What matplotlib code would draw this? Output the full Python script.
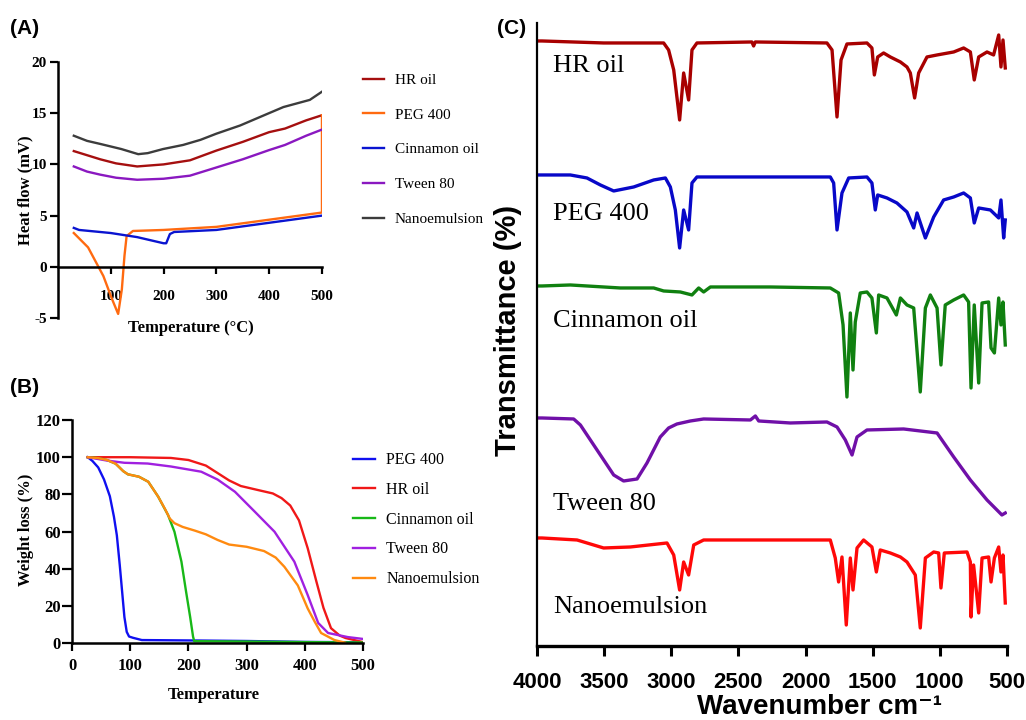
import matplotlib.pyplot as plt

plt.rcParams['font.family'] = ['Liberation Serif', 'DejaVu Serif']
plt.rcParams['axes.unicode_minus'] = False

# ---- (A) DSC data ----
dsc_labels = ['HR oil', 'PEG 400', 'Cinnamon oil', 'Tween 80', 'Nanoemulsion']
dsc_colors = ['#a50f0f', '#ff6a10', '#0a14d0', '#8a18c0', '#3c3c3c']
dsc_hr_t = [30, 55, 80, 110, 150, 200, 250, 300, 350, 400, 430, 470, 500]
dsc_hr_v = [11.3, 10.9, 10.5, 10.1, 9.8, 10.0, 10.4, 11.35, 12.2, 13.15, 13.5, 14.3, 14.8]
dsc_peg_t = [30, 57, 86, 102, 114, 121, 126, 130, 142, 200, 300, 400, 500, 500]
dsc_peg_v = [3.3, 1.9, -0.9, -3.1, -4.6, -2.2, 1.1, 3.0, 3.5, 3.6, 3.9, 4.6, 5.3, 14.8]
dsc_cin_t = [30, 40, 100, 150, 200, 205, 212, 220, 300, 400, 500]
dsc_cin_v = [3.8, 3.6, 3.3, 2.9, 2.3, 2.3, 3.2, 3.4, 3.6, 4.3, 5.0]
dsc_tw_t = [30, 55, 80, 110, 150, 200, 250, 300, 350, 400, 430, 470, 500]
dsc_tw_v = [9.8, 9.3, 9.0, 8.7, 8.5, 8.6, 8.9, 9.7, 10.5, 11.4, 11.9, 12.8, 13.4]
dsc_ne_t = [30, 55, 80, 120, 152, 170, 199, 237, 270, 300, 345, 395, 427, 477, 500]
dsc_ne_v = [12.8, 12.3, 12.0, 11.5, 11.0, 11.1, 11.5, 11.9, 12.4, 13.0, 13.8, 14.9, 15.6, 16.3, 17.1]

# ---- (B) TGA data ----
tga_labels = ['PEG 400', 'HR oil', 'Cinnamon oil', 'Tween 80', 'Nanoemulsion']
tga_colors = ['#1010f0', '#f01818', '#18b818', '#a020e0', '#ff8a10']
tga_peg_t = [27, 35, 45, 55, 65, 72, 77, 82, 86, 90, 94, 98, 105, 120, 200, 300, 400, 500]
tga_peg_v = [100, 98, 94.5, 88, 79, 68, 58, 42, 28, 14, 6, 3.5, 2.8, 1.6, 1.4, 1.1, 0.6, 0.4]
tga_hr_t = [27, 100, 170, 200, 230, 250, 270, 290, 320, 345, 360, 375, 390, 405, 420, 432, 445, 460, 470, 500]
tga_hr_v = [100, 100, 99.6, 98.5, 95.5, 91.5, 87.5, 84.5, 82.3, 80.5, 78, 74, 66, 51, 33, 19, 8, 4, 2.7, 0.5]
tga_cin_t = [27, 45, 60, 75, 88, 96, 115, 131, 148, 165, 176, 188, 196, 203, 208, 210, 300, 400, 500]
tga_cin_v = [100, 99.5, 98.5, 96.5, 92.5, 90.8, 89.5, 86.8, 78.8, 68.9, 59.9, 43.8, 27.6, 14, 3.4, 1, 0.8, 0.5, 0.3]
tga_tw_t = [27, 60, 90, 130, 170, 222, 250, 280, 314, 348, 382, 405, 423, 440, 474, 500]
tga_tw_v = [100, 98.2, 97, 96.6, 95, 92.2, 88, 81.4, 70.7, 59.9, 43.8, 25.8, 10.8, 5.4, 3.2, 2.2]
tga_ne_t = [27, 45, 60, 75, 88, 96, 115, 131, 148, 160, 168, 176, 190, 211, 230, 250, 270, 300,
            330, 350, 365, 388, 405, 417, 428, 451, 469]
tga_ne_v = [100, 99.5, 98.5, 96.5, 92.5, 90.8, 89.5, 86.8, 78.8, 72, 67, 64.5, 62.5, 60.5, 58.5, 55.5, 53, 51.8,
            49.5, 46, 41, 31, 18.6, 11.5, 5.4, 1.6, 0.2]

# ---- (C) FTIR data (stacked, arbitrary units) ----
ftir_labels = ['HR oil', 'PEG 400', 'Cinnamon oil', 'Tween 80', 'Nanoemulsion']
ftir_colors = ['#a80000', '#0808c8', '#108010', '#7010a8', '#ff0808']
hr_wn = [3990, 3963, 3504, 3057, 3020, 2982, 2938, 2908, 2871, 2846, 2809, 2400, 2387, 2375, 1841, 1803,
         1766, 1736, 1692, 1543, 1506, 1488, 1463, 1419, 1369, 1294, 1245, 1220, 1188, 1158, 1096, 1021,
         897, 823, 773, 744, 711, 649, 600, 562, 545, 530, 513]
hr_t = [605, 605, 603, 603, 596, 576, 526, 573, 546, 596, 603, 604, 600, 604, 603, 596,
        529, 586, 602, 603, 598, 571, 589, 593, 589, 584, 579, 573, 548, 573, 589, 591,
        594, 598, 594, 566, 589, 594, 591, 611, 579, 606, 578]
peg_wn = [3990, 3963, 3752, 3628, 3528, 3429, 3280, 3131, 3044, 3007, 2970, 2938, 2908, 2871, 2846, 2809,
          1816, 1791, 1766, 1729, 1679, 1543, 1506, 1481, 1463, 1394, 1320, 1245, 1195, 1170, 1108, 1046,
          972, 897, 823, 773, 744, 711, 624, 562, 545, 525, 513]
peg_t = [471, 471, 471, 468, 461, 455, 459, 466, 468, 459, 436, 398, 436, 416, 463, 469,
         469, 463, 416, 453, 468, 469, 463, 436, 451, 448, 443, 434, 418, 433, 408, 429,
         446, 449, 453, 448, 423, 438, 436, 428, 446, 408, 426]
cin_wn = [3990, 3963, 3752, 3380, 3131, 3057, 2933, 2846, 2796, 2759, 2709, 2263, 1816, 1754, 1721, 1692,
          1667, 1647, 1630, 1593, 1543, 1506, 1473, 1456, 1394, 1324, 1294, 1245, 1195, 1146, 1108, 1071,
          1021, 992, 960, 897, 823, 786, 768, 744, 711, 686, 637, 619, 594, 562, 545, 530, 513]
cin_t = [360, 360, 361, 358, 358, 355, 354, 351, 358, 354, 359, 359, 358, 353, 321, 249,
         333, 276, 324, 353, 354, 348, 313, 351, 348, 331, 348, 341, 338, 254, 338, 351,
         338, 281, 341, 346, 351, 344, 258, 341, 263, 343, 344, 298, 293, 348, 321, 344, 301]
tw_wn = [3990, 3963, 3727, 3677, 3553, 3429, 3355, 3255, 3181, 3082, 3020, 2958, 2858, 2759, 2411, 2374,
         2349, 2114, 1841, 1766, 1704, 1654, 1617, 1543, 1270, 1021, 897, 773, 649, 575, 538, 513]
tw_t = [228, 228, 227, 221, 196, 171, 165, 167, 183, 209, 218, 222, 225, 227, 226, 230,
        225, 223, 224, 219, 206, 191, 209, 216, 217, 213, 189, 166, 146, 136, 131, 133]
ne_wn = [3990, 3963, 3702, 3504, 3305, 3032, 2982, 2938, 2908, 2871, 2833, 2759, 1816, 1779, 1754, 1729,
         1697, 1667, 1647, 1617, 1568, 1506, 1473, 1444, 1369, 1294, 1245, 1183, 1146, 1108, 1046, 1009,
         992, 967, 798, 773, 768, 749, 711, 686, 637, 619, 594, 562, 545, 530, 513]
ne_t = [108, 108, 106, 98, 99, 103, 91, 56, 84, 71, 101, 106, 106, 88, 64, 89,
        21, 88, 56, 98, 106, 99, 74, 96, 93, 89, 84, 71, 18, 88, 94, 93,
        58, 93, 94, 84, 29, 81, 33, 88, 89, 64, 88, 99, 74, 91, 43]
wn_ticks = [4000, 3500, 3000, 2500, 2000, 1500, 1000, 500]

sans = ['Liberation Sans', 'DejaVu Sans']

fig = plt.figure(figsize=(10.26, 7.2), dpi=100)

# ---------- panel A ----------
axA = fig.add_axes([0.0565, 0.5583, 0.2573, 0.3556])
dsc_x = [dsc_hr_t, dsc_peg_t, dsc_cin_t, dsc_tw_t, dsc_ne_t]
dsc_y = [dsc_hr_v, dsc_peg_v, dsc_cin_v, dsc_tw_v, dsc_ne_v]
for x, y, c, lab in zip(dsc_x, dsc_y, dsc_colors, dsc_labels):
    axA.plot(x, y, color=c, lw=1.7, label=lab)
axA.set_xlim(0, 500)
axA.set_ylim(-5, 20)
axA.set_xticks([100, 200, 300, 400, 500])
axA.set_yticks([-5, 0, 5, 10, 15, 20])
axA.spines['bottom'].set_position(('data', 0))
axA.spines['top'].set_visible(False)
axA.spines['right'].set_visible(False)
for s in ['left', 'bottom']:
    axA.spines[s].set_linewidth(1.8)
axA.tick_params(axis='x', length=5, width=1.6, pad=12, labelsize=11)
axA.tick_params(axis='y', length=6, width=1.6, pad=2, labelsize=11)
for t in axA.get_xticklabels() + axA.get_yticklabels():
    t.set_fontweight('bold')
axA.set_xlabel('Temperature (°C)', fontsize=12, fontweight='bold')
axA.xaxis.set_label_coords(0.504, -0.006)
axA.set_ylabel('Heat flow (mV)', fontsize=12, fontweight='bold')
axA.yaxis.set_label_coords(-0.093, 0.50)
fig.legend(*axA.get_legend_handles_labels(), loc='upper left', bbox_to_anchor=(0.346, 0.909),
           frameon=False, fontsize=11, handlelength=1.4, handletextpad=0.7, labelspacing=1.38,
           borderpad=0)

# ---------- panel B ----------
axB = fig.add_axes([0.0702, 0.1069, 0.2836, 0.3097])
tga_x = [tga_peg_t, tga_hr_t, tga_cin_t, tga_tw_t, tga_ne_t]
tga_y = [tga_peg_v, tga_hr_v, tga_cin_v, tga_tw_v, tga_ne_v]
for x, y, c, lab in zip(tga_x, tga_y, tga_colors, tga_labels):
    axB.plot(x, y, color=c, lw=1.7, label=lab)
axB.set_xlim(0, 500)
axB.set_ylim(0, 120)
axB.set_xticks([0, 100, 200, 300, 400, 500])
axB.set_yticks([0, 20, 40, 60, 80, 100, 120])
axB.spines['top'].set_visible(False)
axB.spines['right'].set_visible(False)
for s in ['left', 'bottom']:
    axB.spines[s].set_linewidth(1.8)
axB.tick_params(axis='x', length=6, width=1.6, pad=5, labelsize=12)
axB.tick_params(axis='y', length=7, width=1.6, pad=1, labelsize=12)
for t in axB.get_xticklabels() + axB.get_yticklabels():
    t.set_fontweight('bold')
axB.set_xlabel('Temperature', fontsize=12, fontweight='bold')
axB.xaxis.set_label_coords(0.488, -0.195)
axB.set_ylabel('Weight loss (%)', fontsize=12, fontweight='bold')
axB.yaxis.set_label_coords(-0.13, 0.507)
fig.legend(*axB.get_legend_handles_labels(), loc='upper left', bbox_to_anchor=(0.336, 0.383),
           frameon=False, fontsize=11.5, handlelength=1.4, handletextpad=0.7, labelspacing=0.86,
           borderpad=0)

# ---------- panel C ----------
axC = fig.add_axes([0.5234, 0.1028, 0.4581, 0.8653])
ftir_x = [hr_wn, peg_wn, cin_wn, tw_wn, ne_wn]
ftir_y = [hr_t, peg_t, cin_t, tw_t, ne_t]
for x, y, c in zip(ftir_x, ftir_y, ftir_colors):
    axC.plot(x, y, color=c, lw=2.4)
label_y = [574, 426, 319, 136, 33]
for lab, yy in zip(ftir_labels, label_y):
    axC.text(3880, yy, lab, fontsize=19, va='baseline', ha='left')
axC.set_xlim(4000, 500)
axC.set_ylim(0, 623)
axC.set_xticks(wn_ticks)
axC.set_yticks([])
axC.spines['top'].set_visible(False)
axC.spines['right'].set_visible(False)
axC.spines['left'].set_linewidth(1.6)
axC.spines['bottom'].set_linewidth(2.4)
axC.tick_params(axis='x', length=7, width=2.2, pad=12, labelsize=16)
for t in axC.get_xticklabels():
    t.set_fontfamily(sans)
    t.set_fontweight('bold')
axC.set_xlabel('Wavenumber cm⁻¹', fontsize=20, fontweight='bold', family=sans)
axC.xaxis.set_label_coords(0.60, -0.077)
axC.set_ylabel('Transmittance (%)', fontsize=21, fontweight='bold', family=sans)
axC.yaxis.set_label_coords(-0.031, 0.506)

# panel letters
for lab, x, y in [('(A)', 0.010, 0.960), ('(B)', 0.010, 0.462), ('(C)', 0.484, 0.960)]:
    fig.text(x, y, lab, fontsize=15, fontweight='bold', va='center', family=sans)

fig.savefig('out.png', dpi=100)
